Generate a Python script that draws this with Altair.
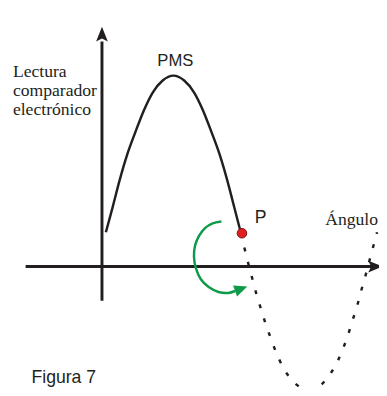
import altair as alt
import pandas as pd

# Coordinates: origin at the crossing of the two axes (x = angle, y = reading)
solid_x = [4, 11, 18, 26, 34, 43, 52, 62, 73, 84, 94, 103, 112, 120, 128, 135, 142]
solid_y = [35, 61, 88, 115, 137, 160, 178, 190, 195, 190, 178, 160, 137, 115, 88, 61, 34]

dotted_x = [142, 146, 150, 154, 158, 163, 167, 172, 178, 185, 194, 204, 212, 220,
            230, 238, 245, 251, 256, 261, 265, 269, 273, 277, 281]
dotted_y = [34, 17, 1, -14, -29, -45, -58, -72, -88, -103, -116, -124, -126, -124,
            -114, -102, -87, -71, -55, -39, -24, -10, 5, 20, 35]

arc_x = [122, 113, 105, 99, 95, 94, 96, 101, 109, 119, 129, 136]
arc_y = [46, 44, 39, 31, 21, 10, -2, -13, -21, -26, -27, -25]

point_p = {"x": [143], "y": [34]}

yaxis_x = [0, 0]
yaxis_y = [-35, 230]
xaxis_x = [-78, 276]
xaxis_y = [0, 0]

sans_text = ["P", "Figura 7"]
sans_x = [156, -72]
sans_y = [44, -119]

pms_text = ["PMS"]
pms_x = [75]
pms_y = [205]

serif_text = ["Lectura", "comparador", "electrónico", "Ángulo"]
serif_x = [-91, -91, -91, 228]
serif_y = [194, 174.5, 155, 42]

INK = "#231f20"
GREEN = "#0f9a4a"

xs = alt.Scale(domain=[-96, 283], nice=False, zero=False)
ys = alt.Scale(domain=[-120, 260], nice=False, zero=False)

def X(f="x"):
    return alt.X(f"{f}:Q", scale=xs, axis=None)

def Y(f="y"):
    return alt.Y(f"{f}:Q", scale=ys, axis=None)

solid_df = pd.DataFrame({"x": solid_x, "y": solid_y, "o": range(len(solid_x))})
dotted_df = pd.DataFrame({"x": dotted_x, "y": dotted_y, "o": range(len(dotted_x))})
arc_df = pd.DataFrame({"x": arc_x, "y": arc_y, "o": range(len(arc_x))})
yaxis_df = pd.DataFrame({"x": yaxis_x, "y": yaxis_y, "o": [0, 1]})
xaxis_df = pd.DataFrame({"x": xaxis_x, "y": xaxis_y, "o": [0, 1]})
p_df = pd.DataFrame(point_p)
sans_df = pd.DataFrame({"t": sans_text, "x": sans_x, "y": sans_y})
pms_df = pd.DataFrame({"t": pms_text, "x": pms_x, "y": pms_y})
serif_df = pd.DataFrame({"t": serif_text, "x": serif_x, "y": serif_y})

yaxis = alt.Chart(yaxis_df).mark_line(color=INK, strokeWidth=3, strokeCap="butt").encode(
    x=X(), y=Y(), order="o:Q")
xaxis = alt.Chart(xaxis_df).mark_line(color=INK, strokeWidth=3, strokeCap="butt").encode(
    x=X(), y=Y(), order="o:Q")

up_arrow = alt.Chart(pd.DataFrame({"x": [0], "y": [237.5]})).mark_point(
    shape="M0,-1L-0.8,1L0,0.6L0.8,1Z", size=225, filled=True, color=INK, opacity=1
).encode(x=X(), y=Y())
right_arrow = alt.Chart(pd.DataFrame({"x": [279.5], "y": [0]})).mark_point(
    shape="M1,0L-1,-0.8L-0.6,0L-1,0.8Z", size=225, filled=True, color=INK, opacity=1
).encode(x=X(), y=Y())

solid = alt.Chart(solid_df).mark_line(color=INK, strokeWidth=2.5, interpolate="monotone").encode(
    x=X(), y=Y(), order="o:Q")
dotted = alt.Chart(dotted_df).mark_line(color=INK, strokeWidth=2.5, interpolate="monotone",
                                         strokeDash=[4, 11]).encode(
    x=X(), y=Y(), order="o:Q")

arc = alt.Chart(arc_df).mark_line(color=GREEN, strokeWidth=2.5, interpolate="catmull-rom").encode(
    x=X(), y=Y(), order="o:Q")
arc_head = alt.Chart(pd.DataFrame({"x": [142.2], "y": [-22.7]})).mark_point(
    shape="M1,0L-1,-0.9L-1,0.9Z", size=175, filled=True, color=GREEN, opacity=1, angle=340
).encode(x=X(), y=Y())

dot = alt.Chart(p_df).mark_point(
    shape="circle", size=95, filled=True, fill="#e02020", stroke="#7a1010", strokeWidth=1, opacity=1
).encode(x=X(), y=Y())

sans = alt.Chart(sans_df).mark_text(
    font="Liberation Sans", fontSize=18, align="left", baseline="alphabetic", color=INK
).encode(x=X(), y=Y(), text="t:N")

pms = alt.Chart(pms_df).mark_text(
    font="Liberation Sans", fontSize=17, align="center", baseline="alphabetic", color=INK
).encode(x=X(), y=Y(), text="t:N")

serif = alt.Chart(serif_df).mark_text(
    font="Liberation Serif", fontSize=18, align="left", baseline="alphabetic", color=INK
).encode(x=X(), y=Y(), text="t:N")

chart = alt.layer(
    yaxis, xaxis, up_arrow, right_arrow, solid, dotted, arc, arc_head, dot, sans, pms, serif
).properties(
    width=379, height=380, padding=0, autosize=alt.AutoSizeParams(type="none")
).configure_view(stroke=None)

chart.save("out.html", embed_options={"renderer": "svg", "actions": False})
